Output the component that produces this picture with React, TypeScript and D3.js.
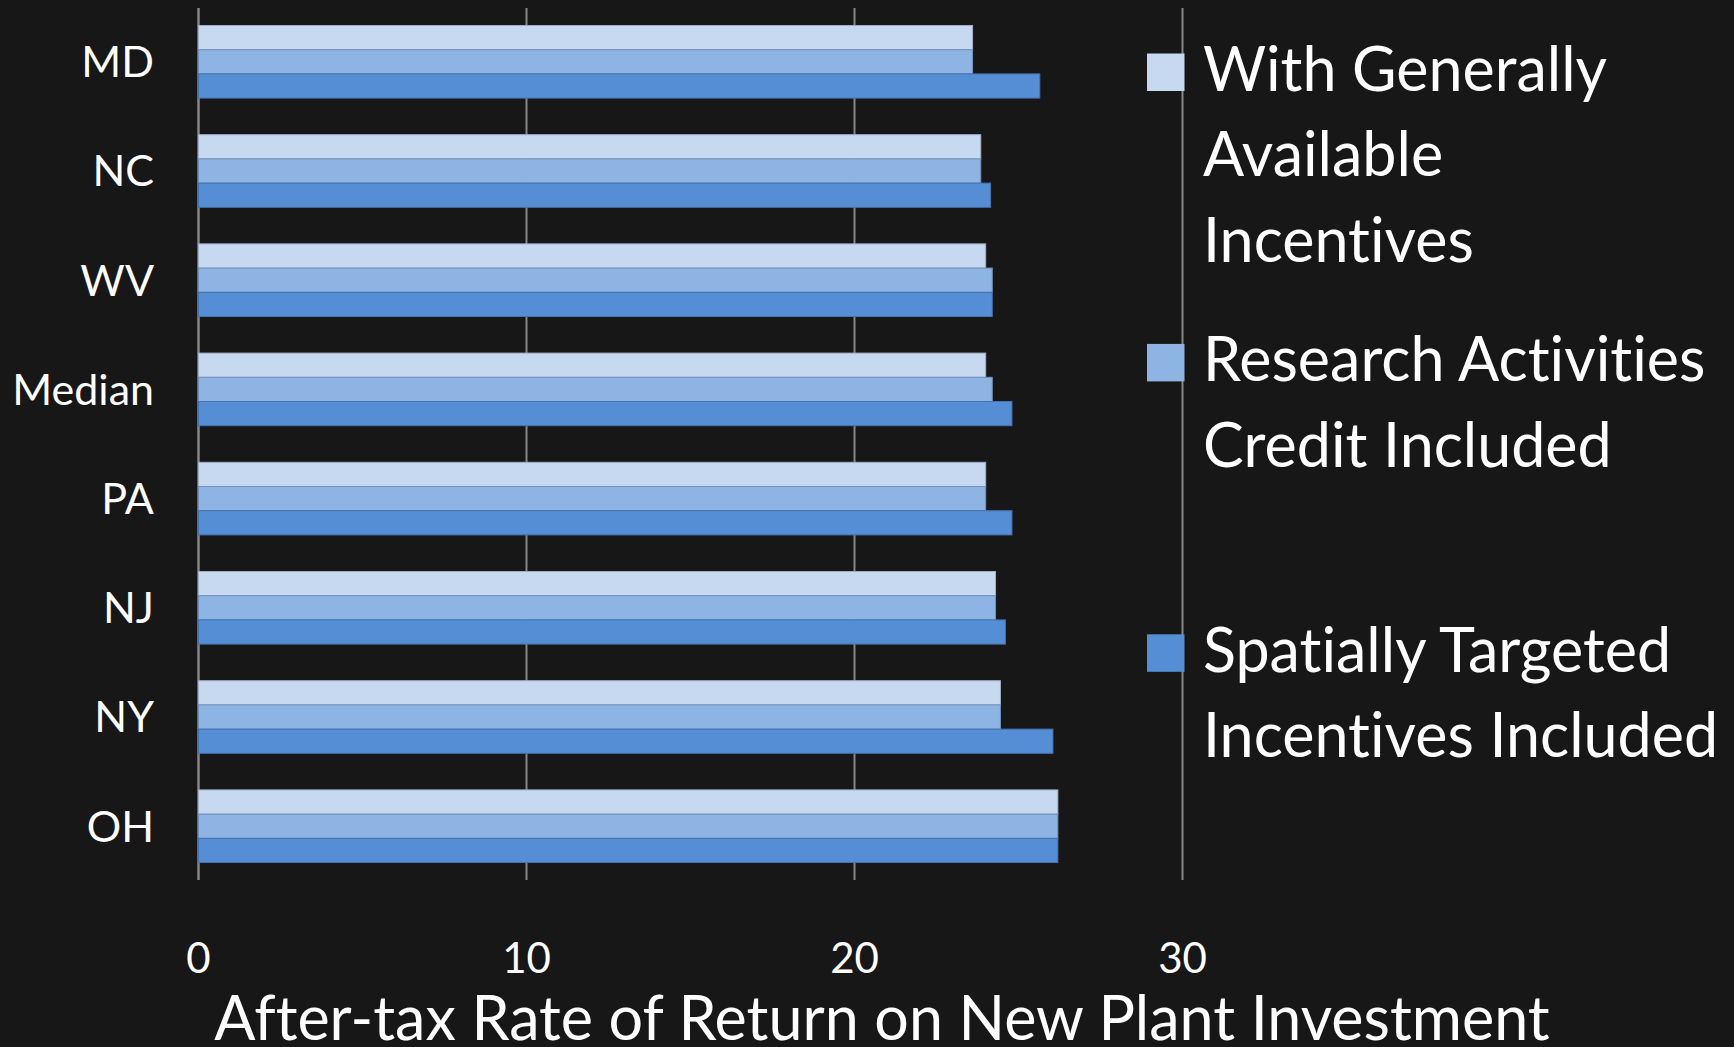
import React, { useEffect } from "react";
import * as d3 from "d3";

// states compared, top to bottom
const categories = ["MD", "NC", "WV", "Median", "PA", "NJ", "NY", "OH"];

// after-tax rate of return (%) for each scenario
const generalIncentives = [23.6, 23.85, 24.0, 24.0, 24.0, 24.3, 24.45, 26.2];
const researchCredit = [23.6, 23.85, 24.2, 24.2, 24.0, 24.3, 24.45, 26.2];
const spatialIncentives = [25.65, 24.15, 24.2, 24.8, 24.8, 24.6, 26.05, 26.2];

const seriesKeys = ["general", "research", "spatial"];
const seriesLabels = [
  ["With Generally", "Available", "Incentives"],
  ["Research Activities", "Credit Included"],
  ["Spatially Targeted", "Incentives Included"],
];
const seriesColors = ["#c6d9f1", "#8eb4e3", "#558ed5"];

const xTicks = [0, 10, 20, 30];
const xTitle = "After-tax Rate of Return on New Plant Investment";

const W = 1734;
const H = 1047;
const FONT = "Lato, 'Open Sans', sans-serif";

export default function App() {
  useEffect(() => {
    document.body.style.margin = "0";
  }, []);

  const x = d3.scaleLinear().domain([0, 30]).range([198.5, 1182.5]);

  const y = d3
    .scaleBand()
    .domain(categories)
    .range([8, 880])
    .paddingInner(0.335)
    .paddingOuter(0.16);

  const ySeries = d3
    .scaleBand()
    .domain(seriesKeys)
    .range([0, y.bandwidth()]);

  const values = [generalIncentives, researchCredit, spatialIncentives];

  // rows for drawing: one per category, each with the three values
  const rows = categories.map((c, i) => ({
    cat: c,
    vals: seriesKeys.map((k, j) => ({ key: k, value: values[j][i], color: seriesColors[j] })),
  }));

  const legendTop = 91; // baseline of first legend line
  const legendStep = 290.4;
  const lineH = 85.3;

  return (
    <svg
      width={W}
      height={H}
      style={{
        position: "absolute",
        left: 0,
        top: 0,
        display: "block",
        fontVariantLigatures: "none",
        fontFeatureSettings: "'liga' 0",
      }}
      fontFamily={FONT}
    >
      <rect width={W} height={H} fill="#171717" />

      {/* grid lines */}
      {xTicks.map((t) => (
        <line
          key={t}
          x1={x(t)}
          x2={x(t)}
          y1={y.range()[0]}
          y2={y.range()[1]}
          stroke="#868686"
          strokeWidth={t === 0 ? 2.5 : 2}
        />
      ))}

      {/* bars */}
      {rows.map((r) => (
        <g key={r.cat} transform={`translate(0,${y(r.cat)})`}>
          {r.vals.map((d) => (
            <rect
              key={d.key}
              x={x(0)}
              y={ySeries(d.key)}
              width={x(d.value) - x(0)}
              height={ySeries.bandwidth()}
              fill={d.color}
              stroke={d3.color(d.color).darker(0.6).toString()}
              strokeWidth={1}
            />
          ))}
        </g>
      ))}

      {/* category labels */}
      {categories.map((c) => (
        <text
          key={c}
          x={154}
          y={y(c) + y.bandwidth() / 2}
          dy="0.36em"
          textAnchor="end"
          fontSize={43}
          fill="#ffffff"
        >
          {c}
        </text>
      ))}

      {/* x tick labels */}
      {xTicks.map((t) => (
        <text key={t} x={x(t)} y={973} textAnchor="middle" fontSize={42} fill="#ffffff">
          {t}
        </text>
      ))}

      {/* axis title */}
      <text x={882} y={1040} textAnchor="middle" fontSize={61} fill="#ffffff">
        {xTitle}
      </text>

      {/* legend */}
      {seriesLabels.map((lines, i) => {
        const base = legendTop + i * legendStep;
        return (
          <g key={i}>
            <rect x={1147} y={base - 37.5} width={37.5} height={37.5} fill={seriesColors[i]} />
            {lines.map((ln, k) => (
              <text key={k} x={1203} y={base + k * lineH} fontSize={61} fill="#ffffff">
                {ln}
              </text>
            ))}
          </g>
        );
      })}
    </svg>
  );
}
